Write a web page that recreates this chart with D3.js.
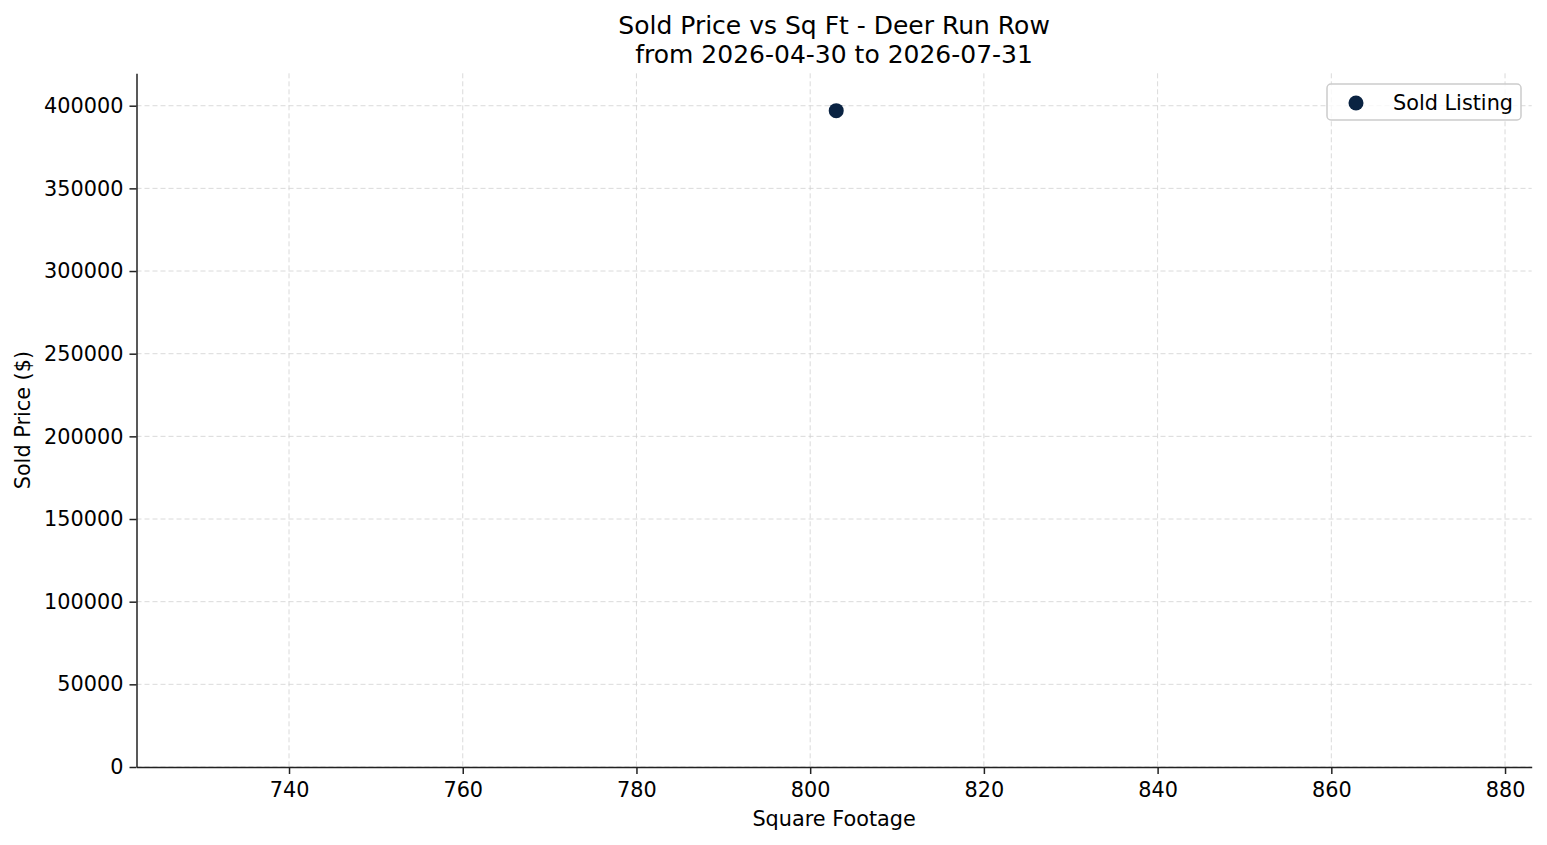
<!DOCTYPE html>
<html>
<head>
<meta charset="utf-8">
<script src="https://cdn.jsdelivr.net/npm/d3@7"></script>
<style>
body { margin: 0; background: #fff; }
text { font-family: "DejaVu Sans", sans-serif; fill: #000; }
.axis path, .axis line { stroke: #222; stroke-width: 1.5; }
.axis text { font-size: 20.8px; }
.grid line { stroke: #d0d0d0; stroke-width: 0.8; stroke-dasharray: 5,3; }
</style>
</head>
<body>
<svg id="chart" width="1547" height="845"></svg>
<script>
// data
const sqft = [803];
const soldPrice = [397000];
const seriesName = "Sold Listing";
const xTicks = [740, 760, 780, 800, 820, 840, 860, 880];
const yTicks = [0, 50000, 100000, 150000, 200000, 250000, 300000, 350000, 400000];
const xLimits = [722.44, 883.07];
const yLimits = [0, 419600];
const titleLines = ["Sold Price vs Sq Ft - Deer Run Row", "from 2026-04-30 to 2026-07-31"];

const mLeft = 136.5, mRight = 1531.7, mTop = 73.3, mBottom = 767;
const pointColor = "#0a2342";

const svg = d3.select("#chart");

const xScale = d3.scaleLinear().domain(xLimits).range([mLeft, mRight]);
const yScale = d3.scaleLinear().domain(yLimits).range([mBottom, mTop]);

// grid
svg.append("g").attr("class", "grid")
.selectAll("line")
.data(xTicks)
.join("line")
.attr("x1", d => xScale(d)).attr("x2", d => xScale(d))
.attr("y1", mTop).attr("y2", mBottom);

svg.append("g").attr("class", "grid")
.selectAll("line")
.data(yTicks)
.join("line")
.attr("x1", mLeft).attr("x2", mRight)
.attr("y1", d => yScale(d)).attr("y2", d => yScale(d));

// points
const points = sqft.map((d, i) => ({x: d, y: soldPrice[i]}));
svg.append("g")
.selectAll("circle")
.data(points)
.join("circle")
.attr("cx", d => xScale(d.x))
.attr("cy", d => yScale(d.y))
.attr("r", 7.5)
.attr("fill", pointColor);

// axes
const x_axis = d3.axisBottom(xScale).tickValues(xTicks).tickSize(7).tickPadding(8).tickSizeOuter(0);
const y_axis = d3.axisLeft(yScale).tickValues(yTicks).tickSize(7).tickPadding(6).tickSizeOuter(0)
.tickFormat(d3.format("d"));

svg.append("g").attr("class", "axis")
.attr("transform", `translate(0,${mBottom})`)
.call(x_axis);

svg.append("g").attr("class", "axis")
.attr("transform", `translate(${mLeft},0)`)
.call(y_axis);

// labels
svg.append("text")
.attr("x", (mLeft + mRight) / 2)
.attr("y", 826)
.attr("text-anchor", "middle")
.style("font-size", "20.8px")
.text("Square Footage");

svg.append("text")
.attr("transform", `translate(${30},${(mTop + mBottom) / 2}) rotate(-90)`)
.attr("text-anchor", "middle")
.style("font-size", "20.8px")
.text("Sold Price ($)");

// title
svg.append("g")
.selectAll("text")
.data(titleLines)
.join("text")
.attr("x", (mLeft + mRight) / 2)
.attr("y", (d, i) => 34 + i * 28.5)
.attr("text-anchor", "middle")
.style("font-size", "25px")
.text(d => d);

// legend
const legend = svg.append("g").attr("transform", `translate(${1327},${84})`);
legend.append("rect")
.attr("width", 194).attr("height", 36)
.attr("rx", 4)
.attr("fill", "#fff").attr("fill-opacity", 0.8)
.attr("stroke", "#ccc").attr("stroke-width", 1.5);
legend.append("circle")
.attr("cx", 29).attr("cy", 19).attr("r", 7.5)
.attr("fill", pointColor);
legend.append("text")
.attr("x", 66).attr("y", 25.5)
.style("font-size", "20.8px")
.text(seriesName);
</script>
</body>
</html>
